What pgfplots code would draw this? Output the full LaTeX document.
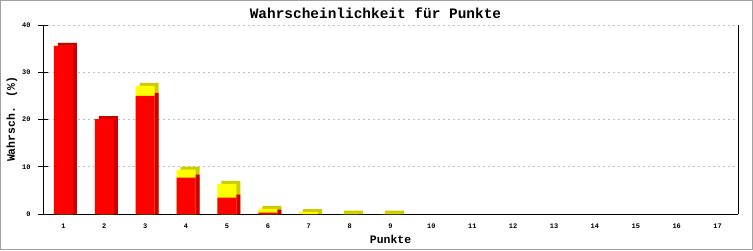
\documentclass[border=0pt]{standalone}
\usepackage{fontspec}
\setmainfont{Liberation Mono}
\usepackage{pgfplots}
\usepackage{pgfplotstable}
\pgfplotsset{compat=1.18}
\definecolor{fred}{HTML}{FF0000}
\definecolor{dred}{HTML}{CC0000}
\definecolor{fyel}{HTML}{FFFF00}
\definecolor{dyel}{HTML}{CCCC00}
\definecolor{frame}{HTML}{A0A0A0}
\pgfplotstableread{
x red
1 35.6
2 20.1
3 25.0
4 7.7
5 3.45
6 0.3
}\redtab
\pgfplotstableread{
x total
1 35.6
2 20.1
3 27.1
4 9.4
5 6.4
6 1.06
7 0.38
8 0.08
9 0.08
}\totaltab
\begin{document}
\begin{tikzpicture}[x=1bp,y=1bp]
\useasboundingbox (0,0) rectangle (753,250);
\draw[frame, line width=1.5bp] (0.75,0.75) rectangle (752.25,249.25);
\begin{axis}[
  at={(43bp,36bp)}, anchor=south west,
  scale only axis, width=695bp, height=189bp,
  xmin=0.5, xmax=17.5, ymin=0, ymax=40,
  xtick={1,...,17}, ytick={0,10,20,30,40},
  axis x line*=bottom, axis y line*=left,
  axis line style={black, line width=1bp},
  ymajorgrids, grid style={dash pattern=on 2bp off 3bp, gray!50, line width=0.8bp},
  xtick style={draw=none},
  ytick style={black, line width=1bp},
  major tick length=10bp, tick align=center,
  /pgf/number format/assume math mode=true,
  tick label style={font=\fontsize{7}{8}\selectfont\bfseries},
  yticklabel style={xshift=-4bp},
  xticklabel style={yshift=-1bp},
  bar width=19bp,
  title={Wahrscheinlichkeit für Punkte},
  every axis title/.style={at={(axis description cs:0.5,1)}, anchor=center, yshift=12bp, xshift=-15bp, font=\fontsize{14.5}{16}\selectfont\bfseries},
  xlabel={Punkte},
  every axis x label/.style={at={(axis description cs:0.5,0)}, anchor=center, yshift=-25bp, font=\fontsize{11.5}{13}\selectfont\bfseries},
  ylabel={Wahrsch. (\%)},
  every axis y label/.style={at={(axis description cs:0,0.5)}, anchor=center, xshift=-31bp, rotate=90, font=\fontsize{11.5}{13}\selectfont\bfseries},
  extra description/.code={\draw[black, line width=1bp] (rel axis cs:1,0) -- (rel axis cs:1,1);},
]
\addplot[ybar, bar shift=0pt, fill=dyel, draw=none, xshift=4bp] table[x=x, y expr=\thisrow{total}+0.635] {\totaltab};
\addplot[ybar, bar shift=0pt, fill=dred, draw=none, xshift=4bp] table[x=x, y expr=\thisrow{red}+0.635] {\redtab};
\addplot[ybar, bar shift=0pt, fill=fyel, draw=none] table[x=x, y=total] {\totaltab};
\addplot[ybar, bar shift=0pt, fill=fred, draw=none] table[x=x, y=red] {\redtab};
\end{axis}
\end{tikzpicture}
\end{document}
